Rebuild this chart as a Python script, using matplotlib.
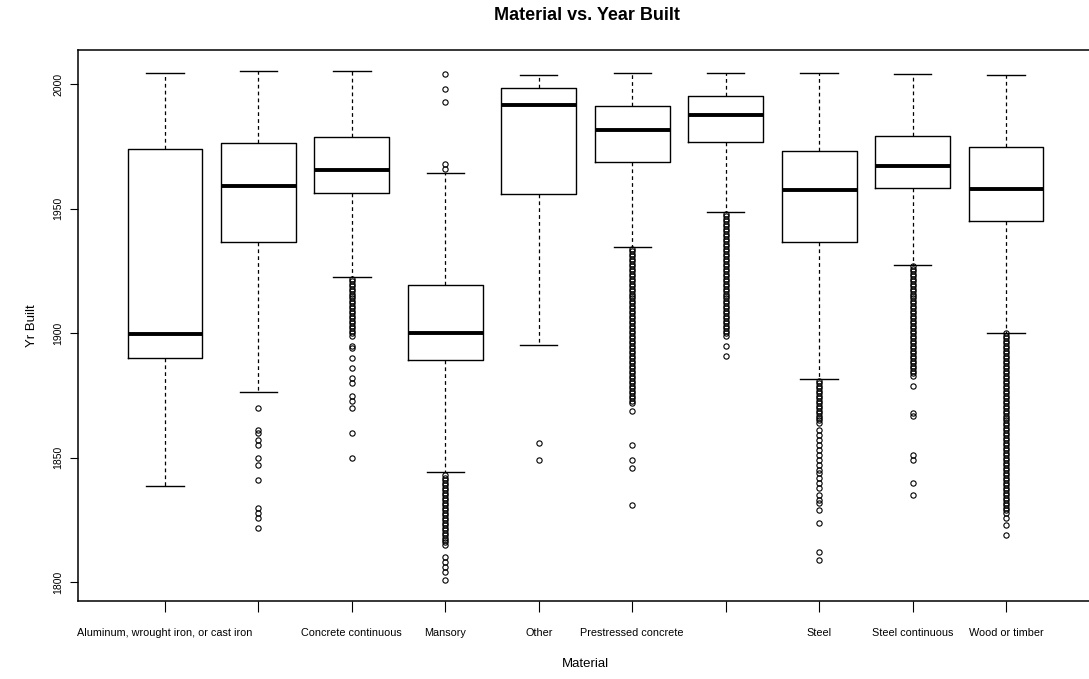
import matplotlib.pyplot as plt

plt.rcParams['font.family'] = ['Liberation Sans', 'DejaVu Sans']

# tick labels; two of the ten categories have no visible label on the axis
tick_labels = ["Aluminum, wrought iron, or cast iron", "", "Concrete continuous",
               "Mansory", "Other", "Prestressed concrete", "", "Steel",
               "Steel continuous", "Wood or timber"]

# five-number summaries per material (year built)
whis_hi = [2004.4, 2005.5, 2005.5, 1964.3, 2003.7, 2004.7, 2004.7, 2004.4, 2004.1, 2003.9]
q3 = [1974.0, 1976.3, 1979.0, 1919.4, 1998.6, 1991.4, 1995.4, 1973.3, 1979.2, 1974.8]
med = [1899.7, 1959.3, 1965.6, 1900.2, 1991.6, 1981.6, 1987.7, 1957.6, 1967.2, 1958.1]
q1 = [1890.0, 1936.8, 1956.5, 1889.4, 1955.8, 1968.9, 1976.8, 1936.5, 1958.2, 1945.0]
whis_lo = [1838.8, 1876.5, 1922.5, 1844.2, 1895.2, 1934.8, 1948.8, 1881.8, 1927.5, 1900.0]

# outliers
out_aluminum = []
out_concrete = [1870, 1861, 1860, 1857, 1855, 1850, 1847, 1841, 1830, 1828, 1826, 1822]
out_concrete_cont = [1922, 1921, 1920, 1919, 1918, 1917, 1916, 1915, 1914, 1913, 1912, 1911,
                     1910, 1909, 1908, 1907, 1906, 1905, 1904, 1903, 1902, 1901, 1900, 1899,
                     1895, 1894, 1890, 1886, 1882, 1880, 1875, 1873, 1870, 1860, 1850]
out_masonry = [2004, 1998, 1993, 1968, 1966,
               1843, 1842, 1841, 1840, 1839, 1838, 1837, 1836, 1835, 1834, 1833, 1832,
               1831, 1830, 1829, 1828, 1827, 1826, 1825, 1824, 1823, 1822, 1821, 1820,
               1819, 1818, 1817, 1816, 1815, 1810, 1808, 1806, 1804, 1801]
out_other = [1856, 1849]
out_prestressed = [1934, 1933, 1932, 1931, 1930, 1929, 1928, 1927, 1926, 1925, 1924, 1923,
                   1922, 1921, 1920, 1919, 1918, 1917, 1916, 1915, 1914, 1913, 1912, 1911,
                   1910, 1909, 1908, 1907, 1906, 1905, 1904, 1903, 1902, 1901, 1900, 1899,
                   1898, 1897, 1896, 1895, 1894, 1893, 1892, 1891, 1890, 1889, 1888, 1887,
                   1886, 1885, 1884, 1883, 1882, 1881, 1880, 1879, 1878, 1877, 1876, 1875,
                   1874, 1873, 1872, 1869, 1855, 1849, 1846, 1831]
out_prestressed_cont = [1948, 1947, 1946, 1945, 1944, 1943, 1942, 1941, 1940, 1939, 1938, 1937,
                        1936, 1935, 1934, 1933, 1932, 1931, 1930, 1929, 1928, 1927, 1926, 1925,
                        1924, 1923, 1922, 1921, 1920, 1919, 1918, 1917, 1916, 1915, 1914, 1913,
                        1912, 1911, 1910, 1909, 1908, 1907, 1906, 1905, 1904, 1903, 1902, 1901,
                        1900, 1899, 1895, 1891]
out_steel = [1881, 1880, 1879, 1878, 1877, 1876, 1875, 1874, 1873, 1872, 1871, 1870,
             1869, 1868, 1867, 1866, 1865, 1864, 1861, 1859, 1857, 1855, 1853, 1851,
             1849, 1847, 1845, 1844, 1842, 1840, 1838, 1835, 1833, 1832, 1829, 1824,
             1812, 1809]
out_steel_cont = [1927, 1926, 1925, 1924, 1923, 1922, 1921, 1920, 1919, 1918, 1917, 1916,
                  1915, 1914, 1913, 1912, 1911, 1910, 1909, 1908, 1907, 1906, 1905, 1904,
                  1903, 1902, 1901, 1900, 1899, 1898, 1897, 1896, 1895, 1894, 1893, 1892,
                  1891, 1890, 1889, 1888, 1887, 1886, 1885, 1884, 1883, 1879, 1868, 1867,
                  1851, 1849, 1840, 1835]
out_wood = [1900, 1899, 1898, 1897, 1896, 1895, 1894, 1893, 1892, 1891, 1890, 1889,
            1888, 1887, 1886, 1885, 1884, 1883, 1882, 1881, 1880, 1879, 1878, 1877,
            1876, 1875, 1874, 1873, 1872, 1871, 1870, 1869, 1868, 1867, 1866, 1865,
            1864, 1863, 1862, 1861, 1860, 1859, 1858, 1857, 1856, 1855, 1854, 1853,
            1852, 1851, 1850, 1849, 1848, 1847, 1846, 1845, 1844, 1843, 1842, 1841,
            1840, 1839, 1838, 1837, 1836, 1835, 1834, 1833, 1832, 1831, 1830, 1829,
            1828, 1826, 1823, 1819]

outliers = [out_aluminum, out_concrete, out_concrete_cont, out_masonry, out_other,
            out_prestressed, out_prestressed_cont, out_steel, out_steel_cont, out_wood]

stats = []
for i in range(len(tick_labels)):
    stats.append(dict(med=med[i], q1=q1[i], q3=q3[i], whislo=whis_lo[i],
                      whishi=whis_hi[i], fliers=outliers[i]))

W, H = 1089, 679
fig = plt.figure(figsize=(W / 100, H / 100), dpi=100)
ax = fig.add_axes([78 / W, 1 - 600.5 / H, (1093 - 78) / W, (600.5 - 50) / H])

ax.bxp(stats, positions=range(1, len(stats) + 1), widths=0.8, capwidths=0.4,
       boxprops=dict(color='black', linewidth=1.0),
       whiskerprops=dict(color='black', linewidth=0.9, linestyle=(0, (3, 2.5))),
       capprops=dict(color='black', linewidth=1.0),
       medianprops=dict(color='black', linewidth=2.8, solid_capstyle='butt'),
       flierprops=dict(marker='o', markersize=3.8, markerfacecolor='none',
                       markeredgecolor='black', markeredgewidth=0.8, linestyle='none'))

ax.set_xlim(0.07, 10.93)
ax.set_ylim(1792.7, 2013.8)
ax.set_xticks(range(1, len(tick_labels) + 1))
ax.set_xticklabels(tick_labels, fontsize=7.8)
ax.set_yticks([1800, 1850, 1900, 1950, 2000])
ax.set_yticklabels(['1800', '1850', '1900', '1950', '2000'], fontsize=7.5,
                   rotation=90, va='center')
ax.tick_params(axis='x', length=8, width=0.8, pad=12)
ax.tick_params(axis='y', length=5.5, width=0.8, pad=5)
for s in ax.spines.values():
    s.set_linewidth(1.1)

ax.set_xlabel('Material', fontsize=9.5)
ax.xaxis.set_label_coords(0.5, -0.105)
ax.set_ylabel('Yr Built', fontsize=9.5)
ax.yaxis.set_label_coords(-0.039, 0.5)

fig.text(587 / W, 1 - 16 / H, 'Material vs. Year Built', ha='center', va='center',
         fontsize=13, fontweight='bold')

fig.savefig('out.png', dpi=100)
